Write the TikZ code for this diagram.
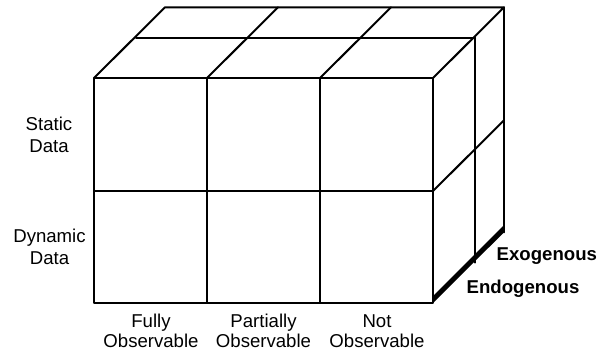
\documentclass[tikz,border=0pt]{standalone}
\usepackage{fontspec}
\setmainfont{Liberation Sans}
\begin{document}
\begin{tikzpicture}[x=1pt,y=-1pt,
  edge/.style={line width=2pt,line cap=round,line join=round},
  divider/.style={line width=2.8pt},
  lbl/.style={font=\fontsize{18.6}{21.7}\selectfont,align=center,inner sep=0pt,anchor=base},
  botlbl/.style={lbl,font=\fontsize{18.6}{20}\selectfont},
  bold/.style={font=\fontsize{18.6}{21}\selectfont\bfseries,inner sep=0pt,anchor=base west}]
\useasboundingbox (0,0) rectangle (607,354);
% front corners
\coordinate (F00) at (94,78);
\coordinate (F30) at (433,78);
\coordinate (F02) at (94,303);
\coordinate (F32) at (433,303);
\coordinate (F10) at (207,78);
\coordinate (F20) at (320,78);
\coordinate (F12) at (207,303);
\coordinate (F22) at (320,303);
\coordinate (F01) at (94,191);
\coordinate (F31) at (433,191);
% middle depth
\coordinate (M00) at (136,37.7);
\coordinate (M30) at (475,37.7);
\coordinate (M32) at (475,262.7);
% back depth
\coordinate (B00) at (165,7.3);
\coordinate (B10) at (278,7.3);
\coordinate (B20) at (391,7.3);
\coordinate (B30) at (504,7.3);
\coordinate (B31) at (504,120.3);
\coordinate (B32) at (504,232.3);
% thick bottom edge band
\fill (F32) -- (B32) -- (504,225) -- (433,296) -- cycle;
% front face
\draw[divider] (F10) -- (F12);
\draw[divider] (F20) -- (F22);
\draw[edge,line width=2.2pt] (F01) -- (F31);
\draw[edge] (F00) rectangle (F32);
% top face
\draw[edge] (F00) -- (B00) -- (B30) -- (F30);
\draw[edge] (F10) -- (B10);
\draw[edge] (F20) -- (B20);
\draw[edge] (M00) -- (M30);
% right face
\draw[edge] (M30) -- (M32);
\draw[edge] (B30) -- (B32);
\draw[edge] (F31) -- (B31);
% labels (anchor = baseline of last line)
\node[lbl] (static) at (49,152.3) {Static\\Data};
\node[lbl] (dynamic) at (49.5,264) {Dynamic\\Data};
\node[botlbl] (fully) at (151,347.3) {Fully\\Observable};
\node[botlbl] (partially) at (263.5,347.3) {Partially\\Observable};
\node[botlbl] (not) at (377,347.3) {Not\\Observable};
\node[bold] (exo) at (496.5,260.7) {Exogenous};
\node[bold] (endo) at (466.5,293.3) {Endogenous};
\end{tikzpicture}
\end{document}
